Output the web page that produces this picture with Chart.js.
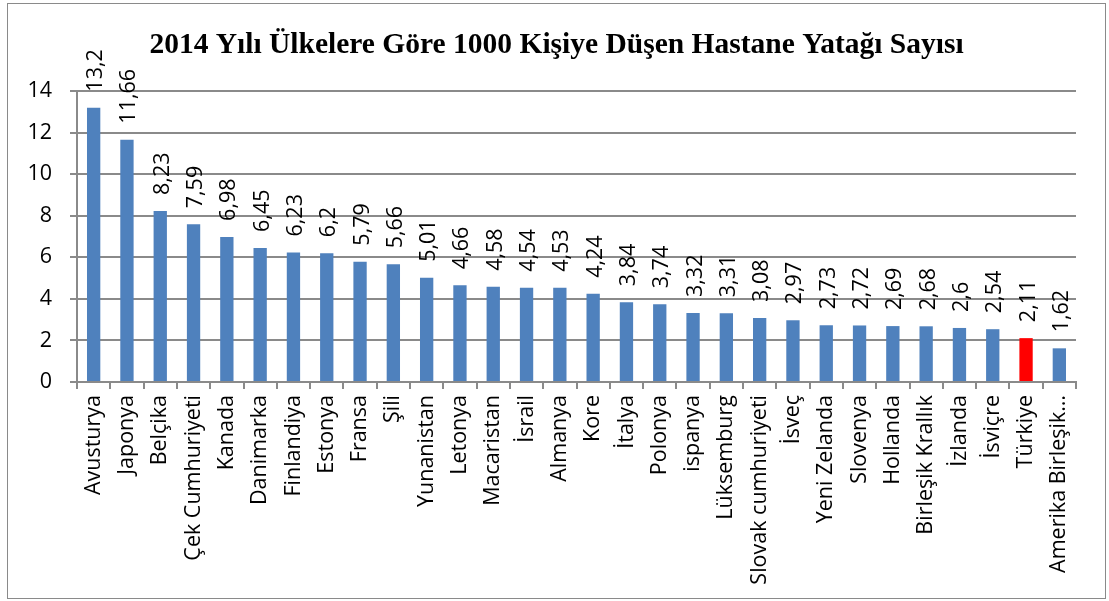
<!DOCTYPE html>
<html>
<head>
<meta charset="utf-8">
<script src="https://cdn.jsdelivr.net/npm/chart.js@4"></script>
<style>
  html, body { margin: 0; padding: 0; background: #fff; }
  #wrap { position: absolute; left: 0; top: 0; width: 1109px; height: 601px; }
  #frame { position: absolute; left: 7px; top: 3px; width: 1097px; height: 594px; border: 1.5px solid #8a8a8a; pointer-events: none; }
</style>
</head>
<body>
<div id="wrap"><canvas id="c" width="1109" height="601"></canvas></div>
<div id="frame"></div>
<script>
const chartTitle = "2014 Yılı Ülkelere Göre 1000 Kişiye Düşen Hastane Yatağı Sayısı";
const countries = ["Avusturya","Japonya","Belçika","Çek Cumhuriyeti","Kanada","Danimarka","Finlandiya","Estonya","Fransa","Şili","Yunanistan","Letonya","Macaristan","İsrail","Almanya","Kore","İtalya","Polonya","ispanya","Lüksemburg","Slovak cumhuriyeti","İsveç","Yeni Zelanda","Slovenya","Hollanda","Birleşik Krallık","İzlanda","İsviçre","Türkiye","Amerika Birleşik Devletleri"];
const bedsPer1000 = [13.2,11.66,8.23,7.59,6.98,6.45,6.23,6.2,5.79,5.66,5.01,4.66,4.58,4.54,4.53,4.24,3.84,3.74,3.32,3.31,3.08,2.97,2.73,2.72,2.69,2.68,2.6,2.54,2.11,1.62];
const highlight = "Türkiye";
const yTicks = [0,2,4,6,8,10,12,14];

const BLUE = "#4F81BD", RED = "#FF0000", GRID = "#8a8a8a";
const FONT = "'Open Sans', 'Noto Sans', sans-serif";

const valueLabels = {
  id: "valueLabels",
  afterDatasetsDraw(chart) {
    const ctx = chart.ctx;
    const meta = chart.getDatasetMeta(0);
    ctx.save();
    ctx.fillStyle = "#000";
    ctx.font = "21.5px " + FONT;
    ctx.textAlign = "left";
    ctx.textBaseline = "alphabetic";
    meta.data.forEach((el, i) => {
      const txt = String(bedsPer1000[i]).replace(".", ",");
      ctx.save();
      ctx.translate(el.x + 8.5, el.y - 16);
      ctx.rotate(-Math.PI / 2);
      ctx.fillText(txt, 0, 0);
      ctx.restore();
    });
    ctx.restore();
  }
};

const titlePlugin = {
  id: "fixedTitle",
  afterDraw(chart) {
    const ctx = chart.ctx;
    ctx.save();
    ctx.fillStyle = "#000";
    ctx.font = "bold 29.5px 'Liberation Serif', 'Times New Roman', serif";
    ctx.textAlign = "center";
    ctx.textBaseline = "alphabetic";
    ctx.fillText(chartTitle, 556.5, 52.5);
    ctx.restore();
  }
};

new Chart(document.getElementById("c"), {
  type: "bar",
  data: {
    labels: countries,
    datasets: [{
      data: bedsPer1000,
      backgroundColor: countries.map(c => c === highlight ? RED : BLUE),
      borderWidth: 0,
      barPercentage: 1,
      categoryPercentage: 0.4
    }]
  },
  options: {
    responsive: false,
    animation: false,
    devicePixelRatio: 1,
    layout: { padding: { top: 91, right: 33, left: 0, bottom: 0 } },
    plugins: { legend: { display: false }, tooltip: { enabled: false }, title: { display: false } },
    scales: {
      x: {
        grid: { display: true, drawOnChartArea: false, drawTicks: true, tickLength: 7, color: GRID, lineWidth: 2, offset: true },
        border: { display: true, color: GRID, width: 2 },
        ticks: {
          color: "#000",
          font: { family: FONT, size: 21.5 },
          minRotation: 90, maxRotation: 90,
          autoSkip: false,
          padding: 6,
          callback: function(v, i) {
            const s = countries[i];
            return s.length > 17 && s.startsWith("Amerika") ? "Amerika Birleşik…" : s;
          }
        },
        afterFit(scale) { scale.height = 219; }
      },
      y: {
        min: 0, max: 14,
        afterBuildTicks(scale) { scale.ticks = yTicks.map(v => ({ value: v })); },
        grid: { color: GRID, lineWidth: 2, tickLength: 7, drawTicks: true },
        border: { display: true, color: GRID, width: 2 },
        ticks: { color: "#000", font: { family: FONT, size: 21.5 }, padding: 18 },
        afterFit(scale) { scale.width = 77; }
      }
    }
  },
  plugins: [valueLabels, titlePlugin]
});
</script>
</body>
</html>
